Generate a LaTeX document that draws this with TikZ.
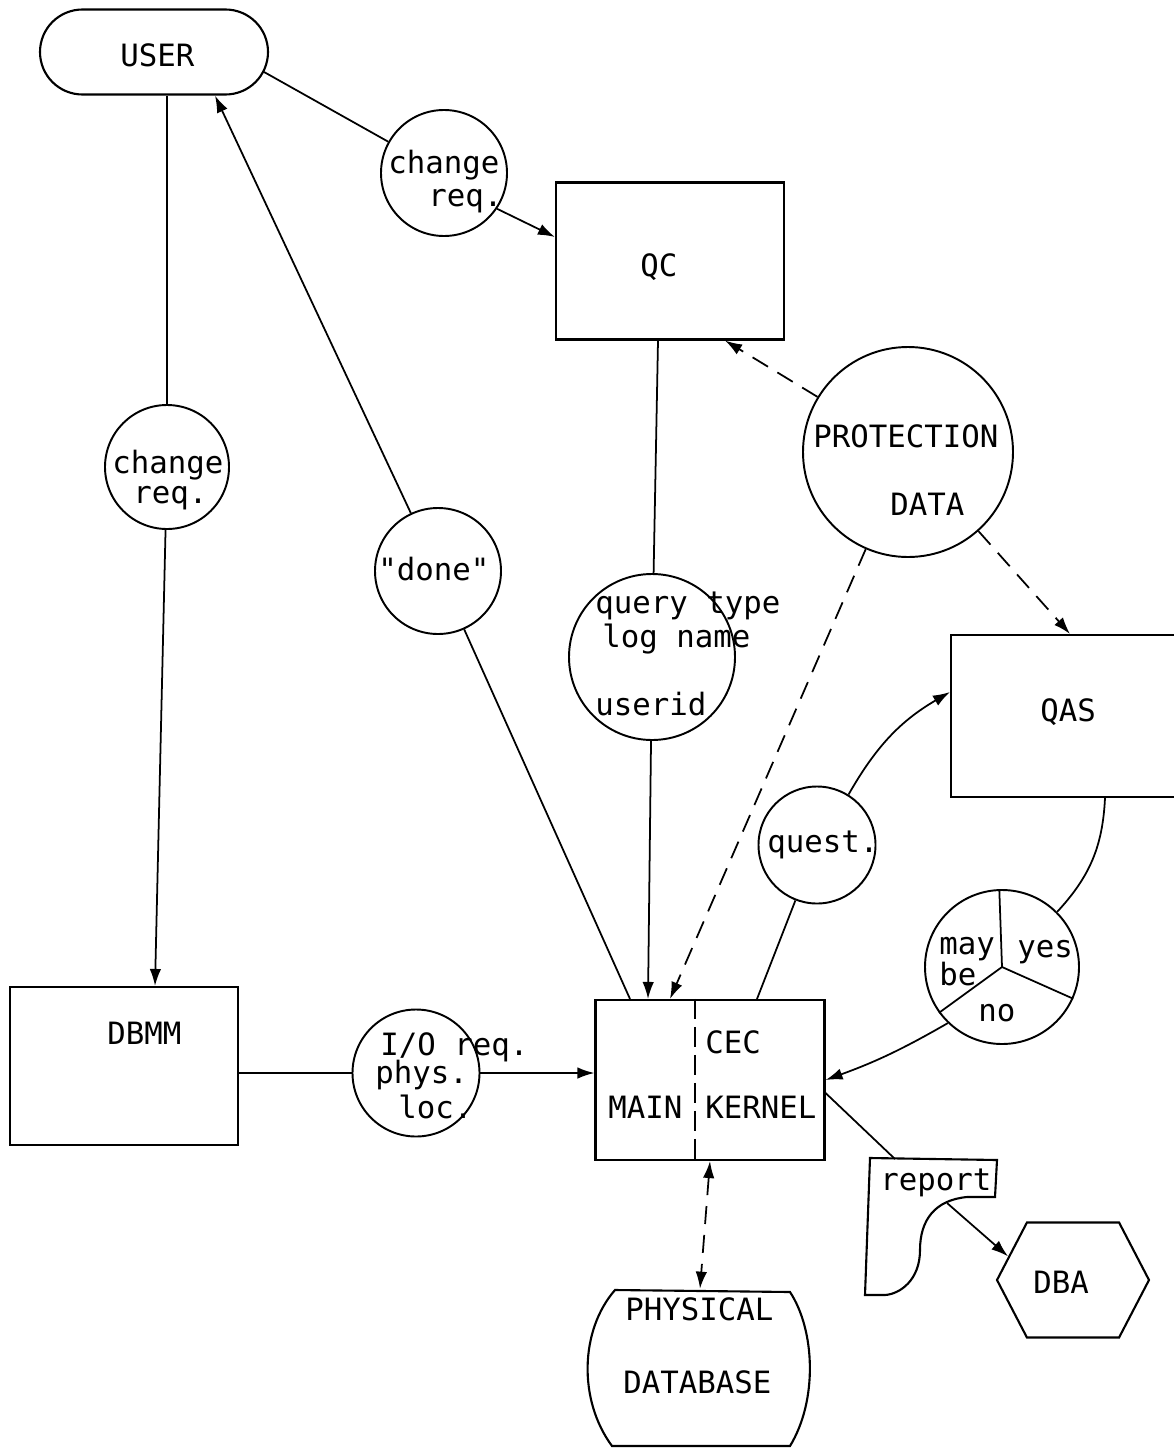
\documentclass[tikz,border=0pt]{standalone}
\usepackage{fontspec}
\setmainfont{DejaVu Sans Mono}[Ligatures=TeXOff]
\usetikzlibrary{calc,arrows.meta,shapes.symbols}
\tikzset{
  flow line/.style={line width=1pt},
  flow arrow/.style={line width=1pt,-{Latex[length=3.4mm,width=2.3mm]}},
  data arrow/.style={line width=1pt,dash pattern=on 3.6mm off 2.2mm,-{Latex[length=3.4mm,width=2.3mm]}},
  data both/.style={data arrow,{Latex[length=3.4mm,width=2.3mm]}-{Latex[length=3.4mm,width=2.3mm]}},
  module box/.style={draw,line width=1.2pt,inner sep=0pt},
  data bubble/.style={draw,circle,line width=1.1pt,inner sep=0pt},
  label text/.style={inner sep=0pt,font=\fontsize{17.5}{19.5}\selectfont},
}

\begin{document}
\begin{tikzpicture}[x=0.2mm,y=-0.2mm]
\useasboundingbox (0,0) rectangle (1173,1448);
% modules
\node[module box,rounded corners=8.5mm,minimum width=45.6mm,minimum height=17mm] (user) at (154,52) {};
\node[module box,minimum width=45.6mm,minimum height=31.4mm] (qc) at (670,261) {};
\node[module box,minimum width=45.2mm,minimum height=32.4mm] (qas) at (1064,716) {};
\node[module box,minimum width=45.6mm,minimum height=31.6mm] (dbmm) at (124,1066) {};
\node[module box,minimum width=45.8mm,minimum height=32mm] (cec) at (710,1080) {};
\node[inner sep=0pt,minimum width=40mm,minimum height=31.6mm] (pdb) at (700,1368) {};
\node[module box,signal,signal to=west and east,signal pointer angle=125,minimum width=30.4mm,minimum height=23mm] (dba) at (1073,1280) {};
% data bubbles
\node[data bubble,minimum size=25.2mm] (chg1) at (444,173) {};
\node[data bubble,minimum size=24.8mm] (chg2) at (167,467) {};
\node[data bubble,minimum size=25.2mm] (done) at (438,571) {};
\node[data bubble,minimum size=33.2mm] (query) at (652,657) {};
\node[data bubble,minimum size=42mm] (prot) at (908,452) {};
\node[data bubble,minimum size=23.4mm] (quest) at (817,845) {};
\node[data bubble,minimum size=30.8mm] (reply) at (1002,967) {};
\node[data bubble,minimum size=25.4mm] (io) at (416,1073) {};
% odd outlines
\draw[flow line] (reply.center) -- (reply.92) (reply.center) -- (reply.-24) (reply.center) -- (reply.-144);
\draw[line width=1pt,dash pattern=on 4mm off 1.6mm] ($(cec.north)+(-15,0)$) -- ($(cec.south)+(-15,0)$);
\draw[module box] (615,1290) -- (790,1292) .. controls (815,1330) and (818,1400) .. (790,1446) -- (612,1446) .. controls (578,1400) and (580,1330) .. (615,1290) -- cycle;
\draw[module box] (870,1158) -- (997,1160) -- (995,1197) -- (967,1197) .. controls (935,1200) and (920,1220) .. (920,1250) .. controls (920,1280) and (900,1294) .. (885,1295) -- (865,1295) -- cycle;
\coordinate (rep-in) at (895,1159);
\coordinate (rep-out) at (947,1203);
% texts
\foreach \n/\x/\y/\t in {t-user/120/66/USER, t-chg1a/388/173/change, t-chg1b/428/206/req.,
  t-qc/640/276/QC, t-chg2a/112/473/change, t-chg2b/133/503/req., t-done/378/580/"done",
  t-prot/813/447/PROTECTION, t-data/890/515/DATA, t-qry1/595/613/query type,
  t-qry2/602/647/log name, t-qry3/595/715/userid, t-qas/1040/721/QAS, t-quest/767/852/quest.,
  t-may/939/954/may, t-be/939/985/be, t-yes/1017/957/yes, t-no/978/1021/no,
  t-dbmm/107/1044/DBMM, t-io1/380/1055/{I/O req.}, t-io2/375/1083/phys., t-io3/398/1118/loc.,
  t-cec/705/1053/CEC, t-main/608/1118/MAIN, t-kern/705/1118/KERNEL,
  t-rep/880/1190/report, t-dba/1033/1293/DBA, t-phys/625/1320/PHYSICAL, t-dbase/623/1393/DATABASE}
  \node[label text,anchor=base west] (\n) at (\x,\y) {\t};
% connectors
\draw[flow line] ($(user.east)+(-5,20)$) -- (chg1);
\draw[flow arrow] (chg1.-34) -- ($(qc.west)+(0,-24)$);
\draw[flow line] (user.south -| chg2) -- (chg2);
\draw[flow arrow] (chg2) -- ($(dbmm.north)+(31,0)$);
\draw[flow arrow] (done) -- ($(user.south)+(61,0)$);
\draw[flow line] (done) -- ($(cec.north)+(-80,0)$);
\draw[flow line] ($(qc.south)+(-12,0)$) -- (query);
\draw[flow arrow] (query) -- ($(cec.north)+(-62,0)$);
\draw[data arrow] (prot) -- ($(qc.south east)+(-60,0)$);
\draw[data arrow] (prot) -- ($(cec.north)+(-40,0)$);
\draw[data arrow] (prot) -- ($(qas.north)+(6,0)$);
\draw[flow arrow] (quest.58) to[bend left=15] ($(qas.west)+(0,-24)$);
\draw[flow line] (quest) -- ($(cec.north)+(47,0)$);
\draw[flow line] ($(qas.south)+(41,0)$) to[bend left=20] (reply.45);
\draw[flow arrow] (reply.-134) to[bend left=5] (cec.east);
\draw[flow line] (dbmm.east |- io) -- (io);
\draw[flow arrow] (io) -- (cec.west |- io);
\draw[data both] (cec.south) -- (pdb.north);
\draw[flow line] ($(cec.east)+(0,13)$) -- (rep-in);
\draw[flow arrow] (rep-out) -- (dba.160);
\end{tikzpicture}
\end{document}
